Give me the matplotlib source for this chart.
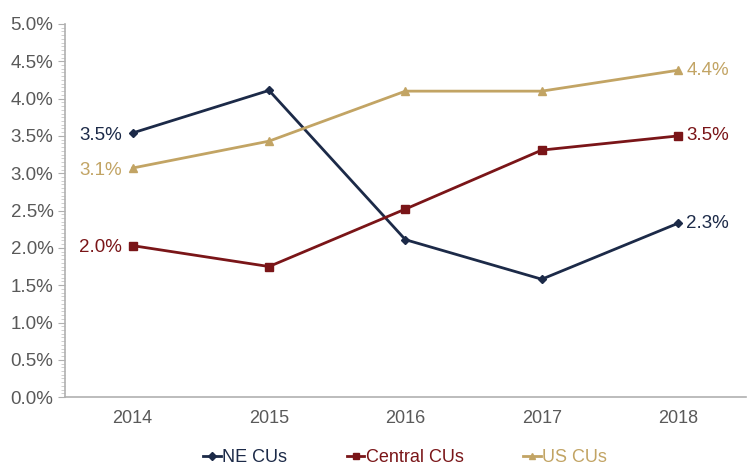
import matplotlib
matplotlib.use('Agg')
import matplotlib.pyplot as plt
from matplotlib.ticker import MultipleLocator, PercentFormatter

# data (percent)
years = ['2014', '2015', '2016', '2017', '2018']
ne_cus = [3.54, 4.11, 2.11, 1.58, 2.33]
central_cus = [2.03, 1.75, 2.52, 3.31, 3.50]
us_cus = [3.07, 3.43, 4.10, 4.10, 4.38]

c_ne = '#1c2a48'
c_central = '#7a1518'
c_us = '#c2a464'
grey = '#595959'

plt.rcParams['font.family'] = ['Liberation Sans', 'DejaVu Sans']

fig = plt.figure(figsize=(7.5, 4.7), dpi=100)
ax = fig.add_axes([0.086, 0.155, 0.909, 0.794])

x = list(range(len(years)))
ax.plot(x, ne_cus, color=c_ne, marker='D', markersize=4.5, lw=2, label='NE CUs')
ax.plot(x, central_cus, color=c_central, marker='s', markersize=6, lw=2, label='Central CUs')
ax.plot(x, us_cus, color=c_us, marker='^', markersize=6, lw=2, label='US CUs')

# end labels
for vals, col in [(ne_cus, c_ne), (central_cus, c_central), (us_cus, c_us)]:
    ax.text(x[0] - 0.08, vals[0] - 0.03, '%.1f%%' % vals[0], color=col, fontsize=13.5,
            ha='right', va='center')
    ax.text(x[-1] + 0.06, vals[-1], '%.1f%%' % vals[-1], color=col, fontsize=13.5,
            ha='left', va='center')

ax.set_xlim(-0.5, 4.5)
ax.set_ylim(0, 5)
ax.set_xticks(x)
ax.set_xticklabels(years)
ax.yaxis.set_major_locator(MultipleLocator(0.5))
ax.yaxis.set_minor_locator(MultipleLocator(0.05))
ax.yaxis.set_major_formatter(PercentFormatter(decimals=1))

for s in ['top', 'right']:
    ax.spines[s].set_visible(False)
for s in ['left', 'bottom']:
    ax.spines[s].set_color('#b0b0b0')
    ax.spines[s].set_linewidth(1.2)

ax.tick_params(axis='y', which='major', colors='#b0b0b0', labelcolor=grey,
               labelsize=13.5, length=5, direction='out', pad=3)
ax.tick_params(axis='y', which='minor', colors='#c8c8c8', length=3, direction='out')
ax.tick_params(axis='x', length=0, labelcolor=grey, labelsize=13, pad=9)

ax.legend(loc='upper center', bbox_to_anchor=(0.50, -0.095), ncol=3, frameon=False,
          fontsize=13, handlelength=0.95, handletextpad=0.1, columnspacing=3.3,
          labelcolor='linecolor', markerscale=0.8)

fig.savefig('out.png', dpi=100)
